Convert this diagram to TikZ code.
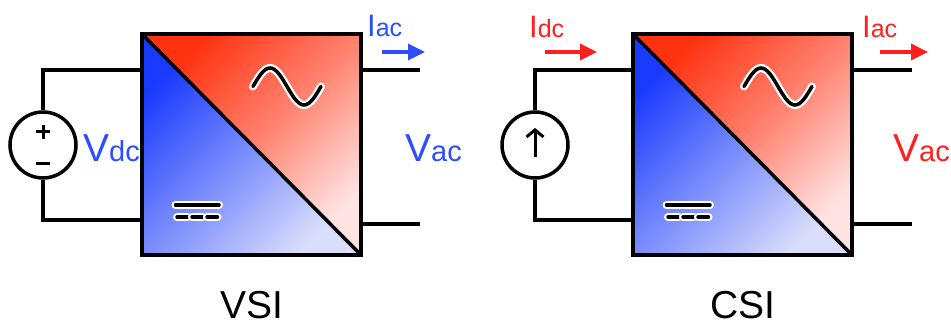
\documentclass[tikz,border=0pt]{standalone}
\usepackage{fontspec}
\setmainfont{Liberation Sans}
\usetikzlibrary{shapes,arrows.meta,positioning}
\definecolor{acred}{HTML}{FF3210}
\definecolor{acpink}{HTML}{FFE3E3}
\definecolor{dcblue}{HTML}{1A3BFF}
\definecolor{dclav}{HTML}{D9DDFA}
\definecolor{lblblue}{HTML}{2E4DFF}
\definecolor{lblred}{HTML}{FF1F1F}
\newcommand{\vsub}[1]{{\fontsize{29}{29}\selectfont #1}}
\newcommand{\isub}[1]{{\fontsize{25}{25}\selectfont #1}}
\tikzstyle{Conv} = [draw, rectangle, line width=3.5pt, inner sep=0pt, minimum width=219pt, minimum height=221pt,
  path picture={
    \shade[top color=acred, bottom color=acpink, middle color=acred!55!acpink, shading angle=45]
      (path picture bounding box.north west) -- (path picture bounding box.north east)
      -- (path picture bounding box.south east) -- cycle;
    \shade[top color=dcblue, bottom color=dclav, middle color=dcblue!50!dclav, shading angle=45]
      (path picture bounding box.north west) -- (path picture bounding box.south west)
      -- (path picture bounding box.south east) -- cycle;
    \draw[line width=3.5pt] (path picture bounding box.north west) -- (path picture bounding box.south east);}]
\tikzstyle{Source} = [draw, circle, line width=3.5pt, minimum size=66pt, inner sep=0pt]
\tikzstyle{Wire} = [line width=3.5pt]
\tikzstyle{Halo} = [line width=3.5pt, line cap=round, preaction={draw, white, line width=8pt, line cap=round}]
\tikzstyle{Flow} = [line width=3.5pt, -{Triangle[length=17pt,width=16pt]}]
\tikzstyle{VLabel} = [inner sep=0pt, anchor=base west, font=\fontsize{39}{39}\selectfont]
\tikzstyle{ILabel} = [inner sep=0pt, anchor=base west, font=\fontsize{31}{31}\selectfont]
\tikzstyle{Title} = [inner sep=0pt, font=\fontsize{39}{39}\selectfont]

\begin{document}
\begin{tikzpicture}[x=1pt, y=-1pt]
  \useasboundingbox (0,0) rectangle (951,326);

  % VSI
  \node[Conv]   (vsi) at (251.5,144.5) {};
  \node[Source] (vs)  at (43,145)      {};
  \node[Title]  (vsitxt) [below=34pt of vsi] {VSI};
  \coordinate (vsiouta) at (420,70);
  \coordinate (vsioutb) at (420,224);
  \draw[Wire] (vs.north) |- (vsi.west |- vsiouta);
  \draw[Wire] (vs.south) |- ([yshift=-75.5pt]vsi.west);
  \draw[Wire] (vsi.east |- vsiouta) -- (vsiouta);
  \draw[Wire] (vsi.east |- vsioutb) -- (vsioutb);
  \draw[line width=3pt] ([shift={(-7,-13)}]vs.center) -- ([shift={(7,-13)}]vs.center);
  \draw[line width=3pt] ([shift={(0,-20)}]vs.center) -- ([shift={(0,-6)}]vs.center);
  \draw[line width=3pt] ([shift={(-7,19)}]vs.center) -- ([shift={(7,19)}]vs.center);
  \node[VLabel, lblblue] (vdc) at (83,162)  {V\vsub{dc}};
  \node[VLabel, lblblue] (vac) at (405,162) {V\vsub{ac}};
  \node[ILabel, lblblue] (iac) at (367,37)  {I\isub{ac}};
  \coordinate (iacs) at (382,52);
  \coordinate (iace) at (425,52);
  \draw[Flow, lblblue] (iacs) -- (iace);
  \draw[Halo] ([shift={(1.5,-58)}]vsi.center) sin ++(17,-18.5) cos ++(17,18.5)
    sin ++(17,18.5) cos ++(17,-18.5);
  \draw[Halo] ([shift={(-76,60.5)}]vsi.center) -- ([shift={(-32.5,60.5)}]vsi.center);
  \foreach \d in {-76,-61,-46}
    \draw[Halo] ([shift={(\d+1.5,72.5)}]vsi.center) -- ([shift={(\d+12,72.5)}]vsi.center);

  % CSI
  \node[Conv]   (csi) at (742.5,144.5) {};
  \node[Source] (is)  at (535,145)     {};
  \node[Title]  (csitxt) [below=34pt of csi] {CSI};
  \coordinate (csiouta) at (912,70);
  \coordinate (csioutb) at (912,224);
  \draw[Wire] (is.north) |- (csi.west |- csiouta);
  \draw[Wire] (is.south) |- ([yshift=-75.5pt]csi.west);
  \draw[Wire] (csi.east |- csiouta) -- (csiouta);
  \draw[Wire] (csi.east |- csioutb) -- (csioutb);
  \draw[line width=3pt, -{Straight Barb[length=7pt,width=17pt]}]
    ([yshift=-12pt]is.center) -- ([yshift=17pt]is.center);
  \node[ILabel, lblred] (idc) at (529,38)  {I\isub{dc}};
  \node[ILabel, lblred] (iac2) at (862,38) {I\isub{ac}};
  \node[VLabel, lblred] (vac2) at (893,162) {V\vsub{ac}};
  \coordinate (idcs) at (545,52);
  \coordinate (idce) at (597,52);
  \coordinate (iac2s) at (880,52);
  \coordinate (iac2e) at (928,52);
  \draw[Flow, lblred] (idcs) -- (idce);
  \draw[Flow, lblred] (iac2s) -- (iac2e);
  \draw[Halo] ([shift={(1.5,-58)}]csi.center) sin ++(17,-18.5) cos ++(17,18.5)
    sin ++(17,18.5) cos ++(17,-18.5);
  \draw[Halo] ([shift={(-76,60.5)}]csi.center) -- ([shift={(-32.5,60.5)}]csi.center);
  \foreach \d in {-76,-61,-46}
    \draw[Halo] ([shift={(\d+1.5,72.5)}]csi.center) -- ([shift={(\d+12,72.5)}]csi.center);
\end{tikzpicture}
\end{document}
